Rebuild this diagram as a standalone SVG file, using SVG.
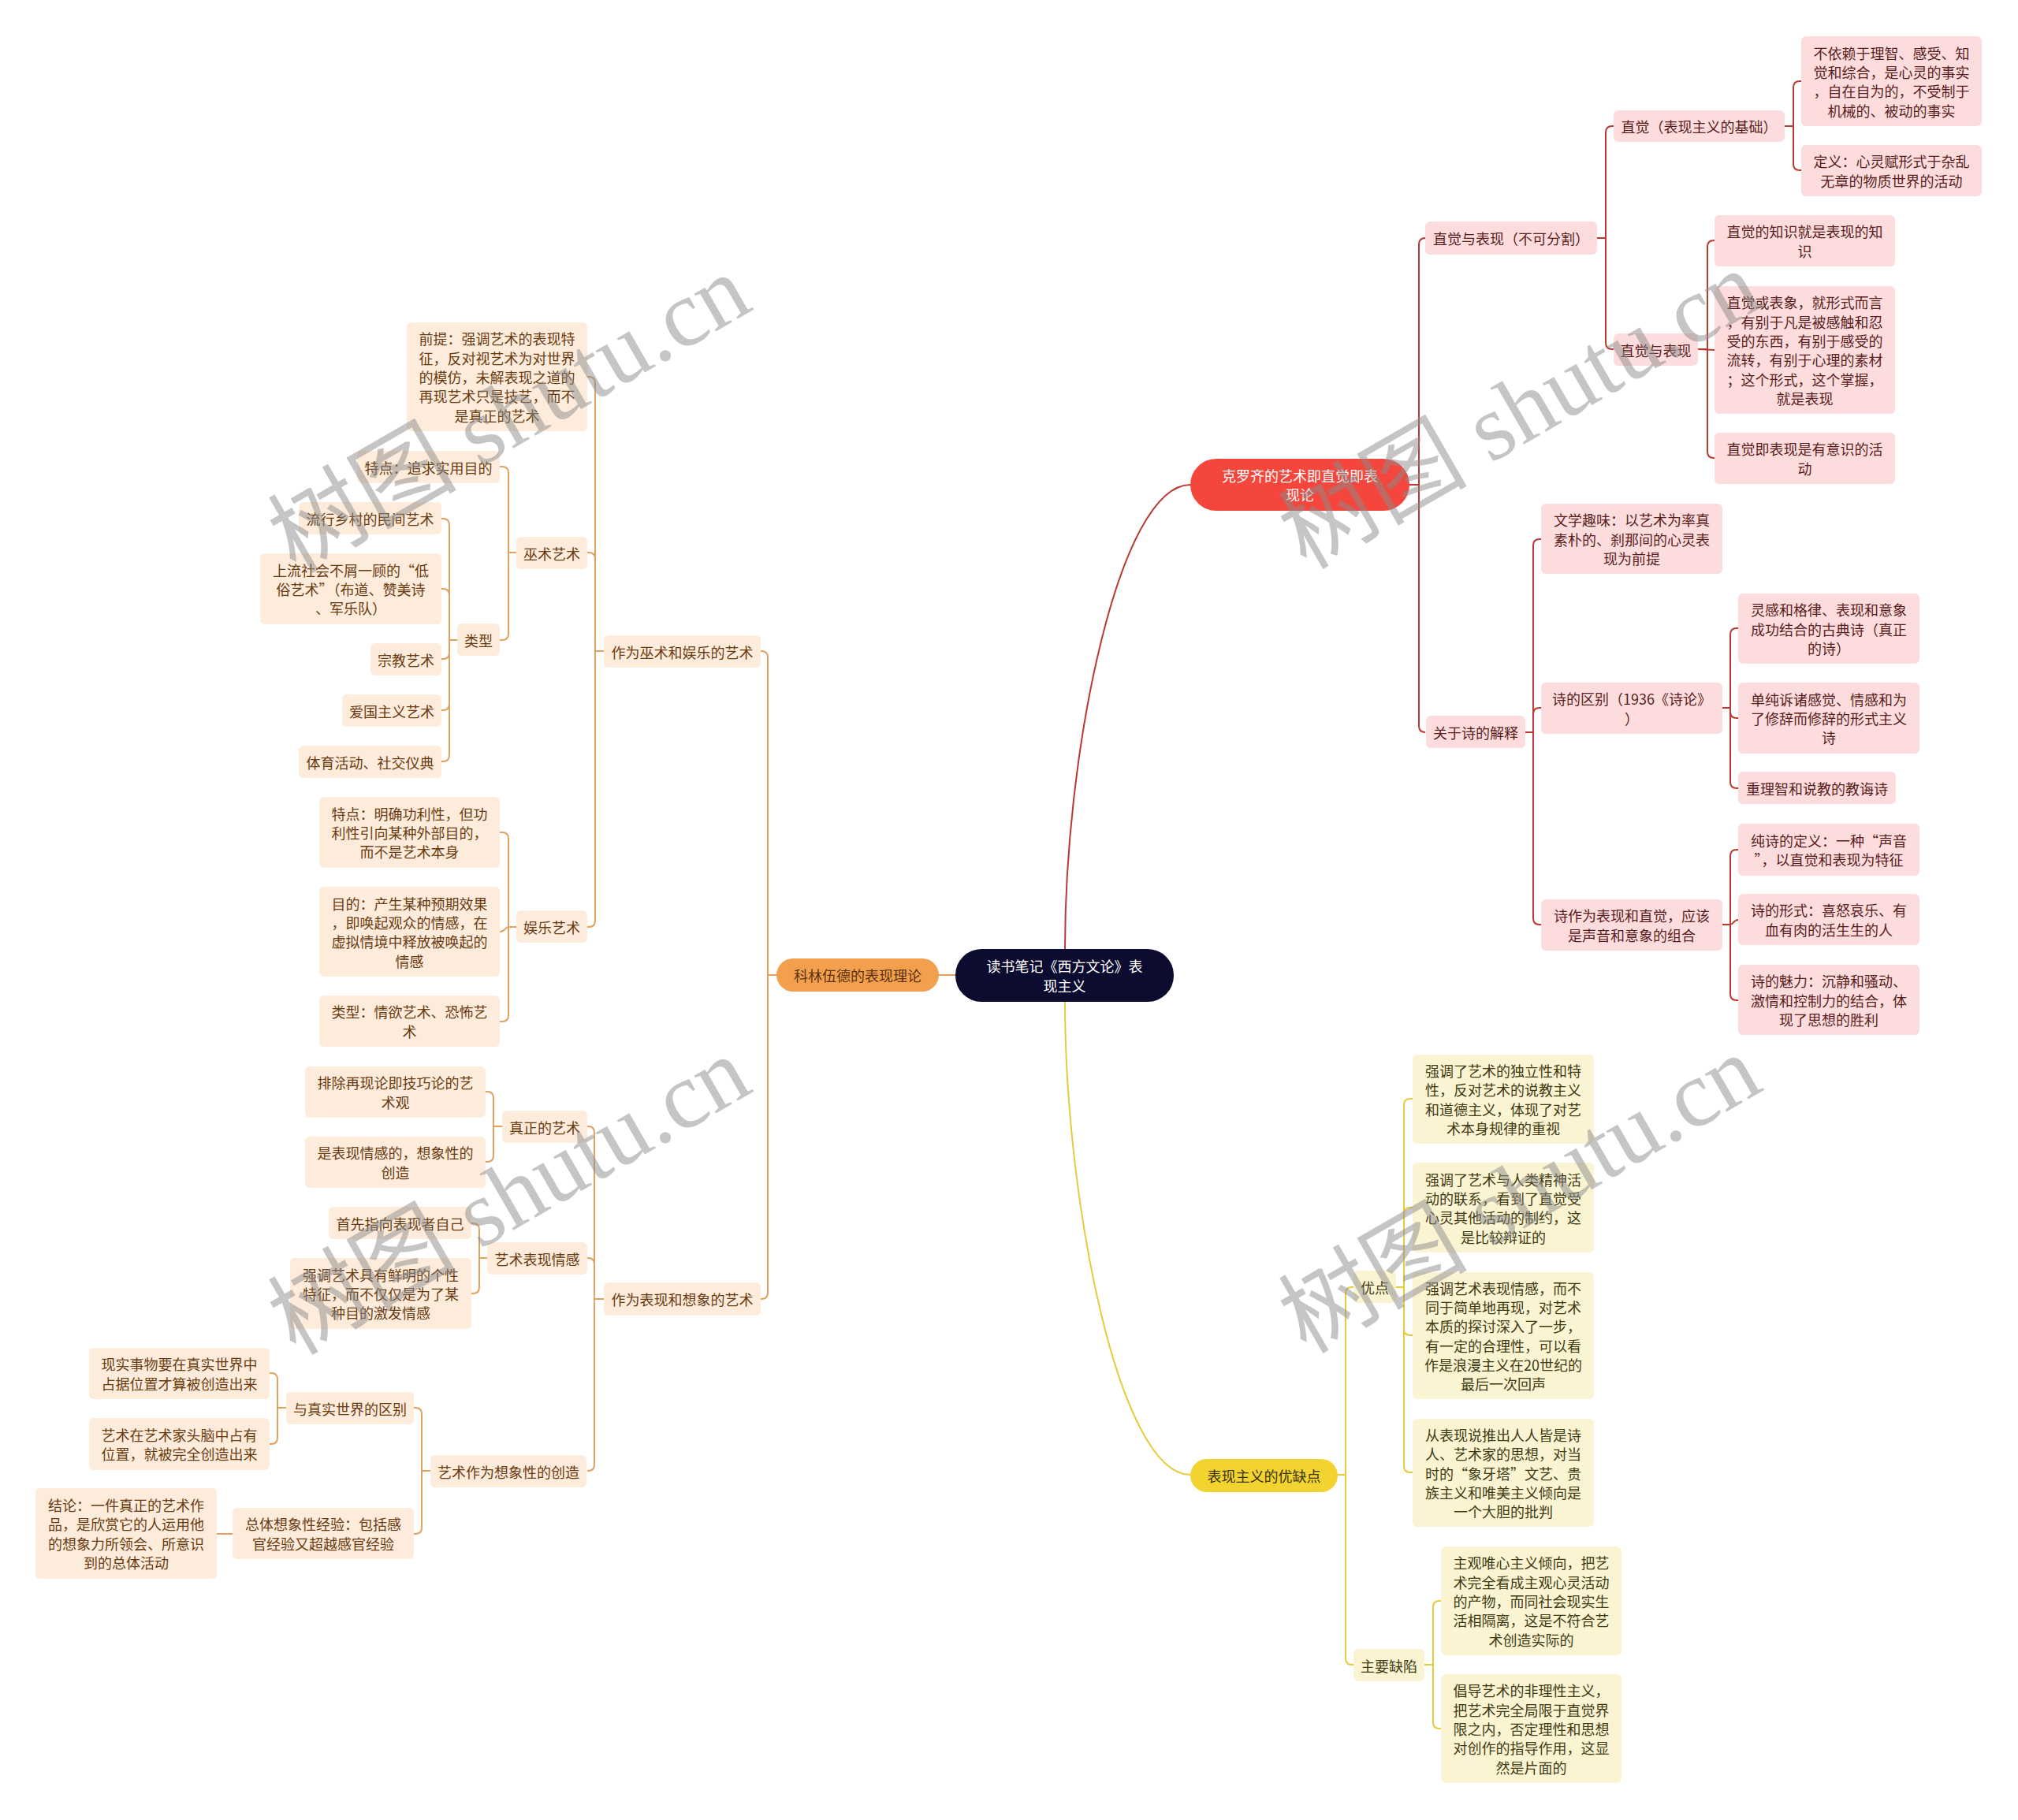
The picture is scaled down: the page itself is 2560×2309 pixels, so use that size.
<svg xmlns="http://www.w3.org/2000/svg" width="2560" height="2309" viewBox="0 0 2560 2309">
<style>
text{font-family:"Noto Sans CJK SC","Noto Sans",sans-serif;font-size:18px;text-anchor:middle;dominant-baseline:central}
.r rect{fill:#fcdcdc}
.r text{fill:#5a1d1d}
.o rect{fill:#fdebdb}
.o text{fill:#6a3b10}
.y rect{fill:#fbf4d2}
.y text{fill:#403a12}
.main text{fill:#ffffff}
.conn path{fill:none;stroke-width:2}
.cr path{stroke:#b93a33}
.co path{stroke:#e2a15f}
.cy path{stroke:#e6cb3f}
.wm text{font-family:"Liberation Serif","Noto Sans CJK SC",serif;font-size:120px;fill:#8c8c8c;opacity:0.5}
</style>
<rect width="2560" height="2309" fill="#ffffff"/>

<g id="connectors" class="conn">
  <g class="cr">
    <path d="M1351 1204 C1351 950 1420 615 1510 615"/>
    <path d="M1788 615 H1800 V310 Q1800 302 1808 302"/>
    <path d="M1788 615 H1800 V921 Q1800 929 1808 929"/>
    <path d="M2026 302 H2037 V168 Q2037 160 2045 160 H2047"/>
    <path d="M2026 302 H2037 V435 Q2037 443 2045 443 H2047"/>
    <path d="M2264 160 H2275 V111 Q2275 103 2283 103 H2285"/>
    <path d="M2264 160 H2275 V208 Q2275 216 2283 216 H2285"/>
    <path d="M2154 443 H2166 V313 Q2166 305 2174 305 H2175"/>
    <path d="M2154 443 L2175 444"/>
    <path d="M2154 443 H2166 V573 Q2166 581 2174 581 H2175"/>
    <path d="M1935 929 H1945 V692 Q1945 684 1953 684 H1955"/>
    <path d="M1935 929 H1945 V906 Q1945 898 1953 898 H1955"/>
    <path d="M1935 929 H1945 V1165 Q1945 1173 1953 1173 H1955"/>
    <path d="M2185 898 H2195 V805 Q2195 797 2203 797 H2205"/>
    <path d="M2185 898 H2195 V903 Q2195 911 2203 911 H2205"/>
    <path d="M2185 898 H2195 V992 Q2195 1000 2203 1000 H2205"/>
    <path d="M2185 1173 H2195 V1086 Q2195 1078 2203 1078 H2205"/>
    <path d="M2185 1173 H2195 C2199 1173 2199 1167 2205 1167"/>
    <path d="M2185 1173 H2195 V1261 Q2195 1269 2203 1269 H2205"/>
  </g>
  <g class="cy">
    <path d="M1351 1271 C1351 1525 1420 1871 1510 1871"/>
    <path d="M1697 1871 H1707 V1641 Q1707 1633 1715 1633 H1717"/>
    <path d="M1697 1871 H1707 V2104 Q1707 2112 1715 2112 H1717"/>
    <path d="M1771 1633 H1781 V1402 Q1781 1394 1789 1394 H1792"/>
    <path d="M1771 1633 H1781 V1540 Q1781 1532 1789 1532 H1792"/>
    <path d="M1771 1633 H1781 V1686 Q1781 1694 1789 1694 H1792"/>
    <path d="M1771 1633 H1781 V1860 Q1781 1868 1789 1868 H1792"/>
    <path d="M1807 2112 H1818 V2039 Q1818 2031 1826 2031 H1828"/>
    <path d="M1807 2112 H1818 V2185 Q1818 2193 1826 2193 H1828"/>
  </g>
  <g class="co">
    <path d="M1212 1237 H1191"/>
    <path d="M985 1237 H974 V834 Q974 826 966 826 H965"/>
    <path d="M985 1237 H974 V1640 Q974 1648 966 1648 H965"/>
    <path d="M766 826 H755 V486 Q755 478 747 478 H745"/>
    <path d="M766 826 H755 V709 Q755 701 747 701 H745"/>
    <path d="M766 826 H755 V1168 Q755 1176 747 1176 H745"/>
    <path d="M655 701 H645 V600 Q645 592 637 592 H634"/>
    <path d="M655 701 H645 V804 Q645 812 637 812 H634"/>
    <path d="M580 812 H570 V666 Q570 658 562 658 H560"/>
    <path d="M580 812 H570 V755 Q570 747 562 747 H560"/>
    <path d="M580 812 H570 V828 Q570 836 562 836 H560"/>
    <path d="M580 812 H570 V893 Q570 901 562 901 H560"/>
    <path d="M580 812 H570 V958 Q570 966 562 966 H560"/>
    <path d="M655 1176 H645 V1064 Q645 1056 637 1056 H634"/>
    <path d="M655 1176 H645 C641 1176 641 1182 634 1182"/>
    <path d="M655 1176 H645 V1288 Q645 1296 637 1296 H634"/>
    <path d="M766 1648 H754 V1437 Q754 1429 746 1429 H745"/>
    <path d="M766 1648 H754 V1604 Q754 1596 746 1596 H745"/>
    <path d="M766 1648 H754 V1858 Q754 1866 746 1866 H745"/>
    <path d="M637 1429 H626 V1393 Q626 1385 618 1385 H616"/>
    <path d="M637 1429 H626 V1466 Q626 1474 618 1474 H616"/>
    <path d="M618 1596 H608 V1560 Q608 1552 600 1552 H598"/>
    <path d="M618 1596 H608 V1633 Q608 1641 600 1641 H598"/>
    <path d="M546 1866 H535 V1794 Q535 1786 527 1786 H525"/>
    <path d="M546 1866 H535 V1938 Q535 1946 527 1946 H525"/>
    <path d="M363 1786 H352 V1750 Q352 1742 344 1742 H342"/>
    <path d="M363 1786 H352 V1824 Q352 1832 344 1832 H342"/>
    <path d="M295 1946 H275"/>
  </g>
</g>

<!-- main nodes -->
<g id="root" class="main"><rect x="1212" y="1204" width="277" height="67" rx="33" fill="#0c0c30"/><text><tspan x="1350.5" y="1225">读书笔记《西方文论》表</tspan><tspan x="1350.5" y="1250">现主义</tspan></text></g>
<g id="b_red" class="main"><rect x="1510" y="582" width="278" height="66" rx="33" fill="#f4463c"/><text><tspan x="1649" y="603">克罗齐的艺术即直觉即表</tspan><tspan x="1649" y="627">现论</tspan></text></g>
<g id="b_orange"><rect x="985" y="1216" width="206" height="42" rx="21" fill="#f3a04e"/><text x="1088" y="1237" fill="#5a3210">科林伍德的表现理论</text></g>
<g id="b_yellow"><rect x="1510" y="1851" width="187" height="42" rx="21" fill="#f2d330"/><text x="1603.5" y="1872" fill="#3a3410">表现主义的优缺点</text></g>

<!-- red subtree -->
<g id="r1" class="r"><rect x="1808" y="281" width="218" height="42" rx="6"/><text x="1917" y="302">直觉与表现（不可分割）</text></g>
<g id="r2" class="r"><rect x="2047" y="140" width="217" height="40" rx="6"/><text x="2155.5" y="160">直觉（表现主义的基础）</text></g>
<g id="r3" class="r"><rect x="2285" y="46" width="229" height="114" rx="6"/><text><tspan x="2399.5" y="66.5">不依赖于理智、感受、知</tspan><tspan x="2399.5" y="90.9">觉和综合，是心灵的事实</tspan><tspan x="2399.5" y="115.2">，自在自为的，不受制于</tspan><tspan x="2399.5" y="139.5">机械的、被动的事实</tspan></text></g>
<g id="r4" class="r"><rect x="2285" y="184" width="229" height="65" rx="6"/><text><tspan x="2399.5" y="204.4">定义：心灵赋形式于杂乱</tspan><tspan x="2399.5" y="228.7">无章的物质世界的活动</tspan></text></g>
<g id="r5" class="r"><rect x="2047" y="423" width="107" height="41" rx="6"/><text x="2100.5" y="443.5">直觉与表现</text></g>
<g id="r6" class="r"><rect x="2175" y="273" width="229" height="65" rx="6"/><text><tspan x="2289.5" y="293.4">直觉的知识就是表现的知</tspan><tspan x="2289.5" y="317.7">识</tspan></text></g>
<g id="r7" class="r"><rect x="2175" y="363" width="229" height="162" rx="6"/><text><tspan x="2289.5" y="383.3">直觉或表象，就形式而言</tspan><tspan x="2289.5" y="407.6">，有别于凡是被感触和忍</tspan><tspan x="2289.5" y="431.9">受的东西，有别于感受的</tspan><tspan x="2289.5" y="456.2">流转，有别于心理的素材</tspan><tspan x="2289.5" y="480.5">；这个形式，这个掌握，</tspan><tspan x="2289.5" y="504.8">就是表现</tspan></text></g>
<g id="r8" class="r"><rect x="2175" y="549" width="229" height="65" rx="6"/><text><tspan x="2289.5" y="569.4">直觉即表现是有意识的活</tspan><tspan x="2289.5" y="593.7">动</tspan></text></g>
<g id="r9" class="r"><rect x="1809" y="908" width="126" height="41" rx="6"/><text x="1872" y="928.5">关于诗的解释</text></g>
<g id="r10" class="r"><rect x="1955" y="639" width="230" height="89" rx="6"/><text><tspan x="2070" y="659.2">文学趣味：以艺术为率真</tspan><tspan x="2070" y="683.5">素朴的、刹那间的心灵表</tspan><tspan x="2070" y="707.8">现为前提</tspan></text></g>
<g id="r11" class="r"><rect x="1955" y="866" width="230" height="65" rx="6"/><text><tspan x="2070" y="886.4">诗的区别（1936《诗论》</tspan><tspan x="2070" y="910.7">）</tspan></text></g>
<g id="r12" class="r"><rect x="1955" y="1141" width="230" height="65" rx="6"/><text><tspan x="2070" y="1161.4">诗作为表现和直觉，应该</tspan><tspan x="2070" y="1185.7">是声音和意象的组合</tspan></text></g>
<g id="r13" class="r"><rect x="2205" y="753" width="230" height="89" rx="6"/><text><tspan x="2320" y="773.2">灵感和格律、表现和意象</tspan><tspan x="2320" y="797.5">成功结合的古典诗（真正</tspan><tspan x="2320" y="821.8">的诗）</tspan></text></g>
<g id="r14" class="r"><rect x="2205" y="866" width="230" height="90" rx="6"/><text><tspan x="2320" y="886.7">单纯诉诸感觉、情感和为</tspan><tspan x="2320" y="911">了修辞而修辞的形式主义</tspan><tspan x="2320" y="935.3">诗</tspan></text></g>
<g id="r15" class="r"><rect x="2205" y="979" width="200" height="41" rx="6"/><text x="2305" y="999.5">重理智和说教的教诲诗</text></g>
<g id="r16" class="r"><rect x="2205" y="1045" width="230" height="66" rx="6"/><text><tspan x="2320" y="1065.9">纯诗的定义：一种“声音</tspan><tspan x="2320" y="1090.2">”，以直觉和表现为特征</tspan></text></g>
<g id="r17" class="r"><rect x="2205" y="1134" width="230" height="65" rx="6"/><text><tspan x="2320" y="1154.4">诗的形式：喜怒哀乐、有</tspan><tspan x="2320" y="1178.7">血有肉的活生生的人</tspan></text></g>
<g id="r18" class="r"><rect x="2205" y="1224" width="230" height="89" rx="6"/><text><tspan x="2320" y="1244.2">诗的魅力：沉静和骚动、</tspan><tspan x="2320" y="1268.5">激情和控制力的结合，体</tspan><tspan x="2320" y="1292.8">现了思想的胜利</tspan></text></g>

<!-- yellow subtree -->
<g id="y0" class="y"><rect x="1717" y="1612" width="54" height="41" rx="6"/><text x="1744" y="1632.5">优点</text></g>
<g id="y1" class="y"><rect x="1792" y="1338" width="230" height="113" rx="6"/><text><tspan x="1907" y="1358">强调了艺术的独立性和特</tspan><tspan x="1907" y="1382.3">性，反对艺术的说教主义</tspan><tspan x="1907" y="1406.6">和道德主义，体现了对艺</tspan><tspan x="1907" y="1430.9">术本身规律的重视</tspan></text></g>
<g id="y2" class="y"><rect x="1792" y="1475" width="230" height="114" rx="6"/><text><tspan x="1907" y="1495.5">强调了艺术与人类精神活</tspan><tspan x="1907" y="1519.8">动的联系，看到了直觉受</tspan><tspan x="1907" y="1544.2">心灵其他活动的制约，这</tspan><tspan x="1907" y="1568.5">是比较辩证的</tspan></text></g>
<g id="y3" class="y"><rect x="1792" y="1614" width="230" height="161" rx="6"/><text><tspan x="1907" y="1633.7">强调艺术表现情感，而不</tspan><tspan x="1907" y="1658">同于简单地再现，对艺术</tspan><tspan x="1907" y="1682.3">本质的探讨深入了一步，</tspan><tspan x="1907" y="1706.6">有一定的合理性，可以看</tspan><tspan x="1907" y="1731">作是浪漫主义在20世纪的</tspan><tspan x="1907" y="1755.3">最后一次回声</tspan></text></g>
<g id="y4" class="y"><rect x="1792" y="1800" width="230" height="137" rx="6"/><text><tspan x="1907" y="1819.9">从表现说推出人人皆是诗</tspan><tspan x="1907" y="1844.2">人、艺术家的思想，对当</tspan><tspan x="1907" y="1868.5">时的“象牙塔”文艺、贵</tspan><tspan x="1907" y="1892.8">族主义和唯美主义倾向是</tspan><tspan x="1907" y="1917.1">一个大胆的批判</tspan></text></g>
<g id="y5" class="y"><rect x="1717" y="2092" width="90" height="41" rx="6"/><text x="1762" y="2112.5">主要缺陷</text></g>
<g id="y6" class="y"><rect x="1828" y="1962" width="229" height="138" rx="6"/><text><tspan x="1942.5" y="1982.4">主观唯心主义倾向，把艺</tspan><tspan x="1942.5" y="2006.7">术完全看成主观心灵活动</tspan><tspan x="1942.5" y="2031">的产物，而同社会现实生</tspan><tspan x="1942.5" y="2055.3">活相隔离，这是不符合艺</tspan><tspan x="1942.5" y="2079.6">术创造实际的</tspan></text></g>
<g id="y7" class="y"><rect x="1828" y="2124" width="229" height="138" rx="6"/><text><tspan x="1942.5" y="2144.4">倡导艺术的非理性主义，</tspan><tspan x="1942.5" y="2168.7">把艺术完全局限于直觉界</tspan><tspan x="1942.5" y="2193">限之内，否定理性和思想</tspan><tspan x="1942.5" y="2217.3">对创作的指导作用，这显</tspan><tspan x="1942.5" y="2241.6">然是片面的</tspan></text></g>

<!-- orange subtree -->
<g id="o1" class="o"><rect x="766" y="806" width="199" height="41" rx="6"/><text x="865.5" y="826.5">作为巫术和娱乐的艺术</text></g>
<g id="o2" class="o"><rect x="516" y="409" width="229" height="138" rx="6"/><text><tspan x="630.5" y="429.4">前提：强调艺术的表现特</tspan><tspan x="630.5" y="453.7">征，反对视艺术为对世界</tspan><tspan x="630.5" y="478">的模仿，未解表现之道的</tspan><tspan x="630.5" y="502.3">再现艺术只是技艺，而不</tspan><tspan x="630.5" y="526.6">是真正的艺术</tspan></text></g>
<g id="o3" class="o"><rect x="655" y="681" width="90" height="41" rx="6"/><text x="700" y="701.5">巫术艺术</text></g>
<g id="o4" class="o"><rect x="453" y="572" width="181" height="41" rx="6"/><text x="543.5" y="592.5">特点：追求实用目的</text></g>
<g id="o5" class="o"><rect x="580" y="791" width="54" height="41" rx="6"/><text x="607" y="811.5">类型</text></g>
<g id="o6" class="o"><rect x="379" y="637" width="181" height="41" rx="6"/><text x="469.5" y="657.5">流行乡村的民间艺术</text></g>
<g id="o7" class="o"><rect x="330" y="702" width="230" height="90" rx="6"/><text><tspan x="445" y="722.7">上流社会不屑一顾的“低</tspan><tspan x="445" y="747">俗艺术”（布道、赞美诗</tspan><tspan x="445" y="771.3">、军乐队）</tspan></text></g>
<g id="o8" class="o"><rect x="470" y="816" width="90" height="41" rx="6"/><text x="515" y="836.5">宗教艺术</text></g>
<g id="o9" class="o"><rect x="434" y="881" width="126" height="41" rx="6"/><text x="497" y="901.5">爱国主义艺术</text></g>
<g id="o10" class="o"><rect x="379" y="946" width="181" height="41" rx="6"/><text x="469.5" y="966.5">体育活动、社交仪典</text></g>
<g id="o11" class="o"><rect x="655" y="1155" width="90" height="41" rx="6"/><text x="700" y="1175.5">娱乐艺术</text></g>
<g id="o12" class="o"><rect x="405" y="1011" width="229" height="90" rx="6"/><text><tspan x="519.5" y="1031.7">特点：明确功利性，但功</tspan><tspan x="519.5" y="1056">利性引向某种外部目的，</tspan><tspan x="519.5" y="1080.3">而不是艺术本身</tspan></text></g>
<g id="o13" class="o"><rect x="405" y="1125" width="229" height="114" rx="6"/><text><tspan x="519.5" y="1145.5">目的：产生某种预期效果</tspan><tspan x="519.5" y="1169.8">，即唤起观众的情感，在</tspan><tspan x="519.5" y="1194.2">虚拟情境中释放被唤起的</tspan><tspan x="519.5" y="1218.5">情感</tspan></text></g>
<g id="o14" class="o"><rect x="405" y="1263" width="229" height="65" rx="6"/><text><tspan x="519.5" y="1283.4">类型：情欲艺术、恐怖艺</tspan><tspan x="519.5" y="1307.7">术</tspan></text></g>
<g id="o15" class="o"><rect x="766" y="1627" width="199" height="42" rx="6"/><text x="865.5" y="1648">作为表现和想象的艺术</text></g>
<g id="o16" class="o"><rect x="637" y="1409" width="108" height="41" rx="6"/><text x="691" y="1429.5">真正的艺术</text></g>
<g id="o17" class="o"><rect x="387" y="1353" width="229" height="65" rx="6"/><text><tspan x="501.5" y="1373.4">排除再现论即技巧论的艺</tspan><tspan x="501.5" y="1397.7">术观</tspan></text></g>
<g id="o18" class="o"><rect x="387" y="1442" width="229" height="65" rx="6"/><text><tspan x="501.5" y="1462.4">是表现情感的，想象性的</tspan><tspan x="501.5" y="1486.7">创造</tspan></text></g>
<g id="o19" class="o"><rect x="618" y="1576" width="127" height="41" rx="6"/><text x="681.5" y="1596.5">艺术表现情感</text></g>
<g id="o20" class="o"><rect x="417" y="1531" width="181" height="41" rx="6"/><text x="507.5" y="1551.5">首先指向表现者自己</text></g>
<g id="o21" class="o"><rect x="368" y="1596" width="230" height="90" rx="6"/><text><tspan x="483" y="1616.7">强调艺术具有鲜明的个性</tspan><tspan x="483" y="1641">特征，而不仅仅是为了某</tspan><tspan x="483" y="1665.3">种目的激发情感</tspan></text></g>
<g id="o22" class="o"><rect x="546" y="1846" width="198" height="41" rx="6"/><text x="645" y="1866.5">艺术作为想象性的创造</text></g>
<g id="o23" class="o"><rect x="363" y="1766" width="162" height="41" rx="6"/><text x="444" y="1786.5">与真实世界的区别</text></g>
<g id="o24" class="o"><rect x="113" y="1710" width="229" height="65" rx="6"/><text><tspan x="227.5" y="1730.4">现实事物要在真实世界中</tspan><tspan x="227.5" y="1754.7">占据位置才算被创造出来</tspan></text></g>
<g id="o25" class="o"><rect x="113" y="1799" width="229" height="66" rx="6"/><text><tspan x="227.5" y="1819.9">艺术在艺术家头脑中占有</tspan><tspan x="227.5" y="1844.2">位置，就被完全创造出来</tspan></text></g>
<g id="o26" class="o"><rect x="295" y="1913" width="230" height="65" rx="6"/><text><tspan x="410" y="1933.4">总体想象性经验：包括感</tspan><tspan x="410" y="1957.7">官经验又超越感官经验</tspan></text></g>
<g id="o27" class="o"><rect x="45" y="1888" width="230" height="115" rx="6"/><text><tspan x="160" y="1909">结论：一件真正的艺术作</tspan><tspan x="160" y="1933.3">品，是欣赏它的人运用他</tspan><tspan x="160" y="1957.7">的想象力所领会、所意识</tspan><tspan x="160" y="1982">到的总体活动</tspan></text></g>

<g id="watermarks" class="wm">
  <text transform="translate(646,525) rotate(-30)">树图 shutu.cn</text>
  <text transform="translate(1928,520) rotate(-30)">树图 shutu.cn</text>
  <text transform="translate(646,1517) rotate(-30)">树图 shutu.cn</text>
  <text transform="translate(1928,1515) rotate(-30)">树图 shutu.cn</text>
</g>
</svg>
